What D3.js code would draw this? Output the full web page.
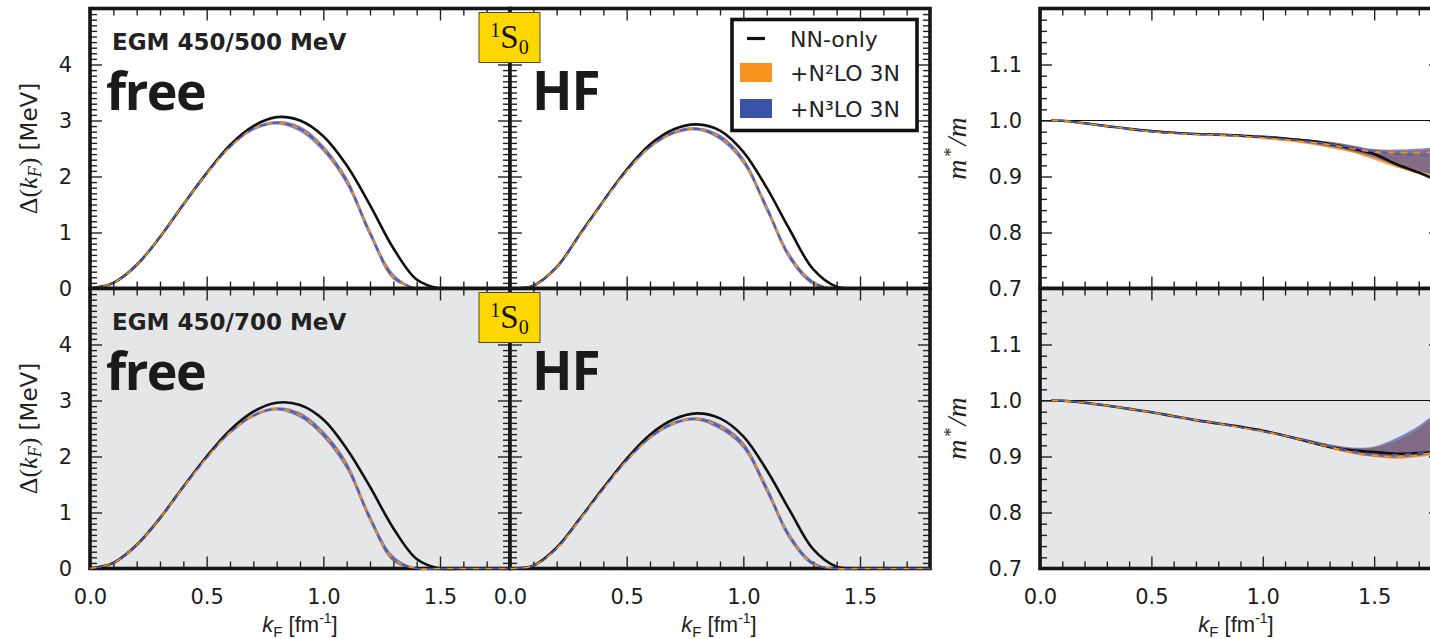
<!DOCTYPE html>
<html><head><meta charset="utf-8">
<script src="https://cdn.jsdelivr.net/npm/d3@7"></script>
<style>
body{margin:0;background:#fff;}
svg{display:block;}
</style></head><body>
<svg id="chart" width="1430" height="639"></svg>
<script>
// ---------- data ----------
const kF = [0,0.1,0.2,0.3,0.4,0.5,0.6,0.7,0.8,0.9,1.0,1.1,1.2,1.3,1.4,1.5,1.6,1.7,1.8];
const kFmass = [0.05,0.1,0.2,0.3,0.4,0.5,0.6,0.7,0.8,0.9,1.0,1.1,1.2,1.3,1.4,1.5,1.6,1.7,1.8];

// EGM 450/500, free spectrum
const freeA_nn      = [0,0.10,0.42,0.92,1.50,2.06,2.56,2.90,3.06,3.00,2.72,2.20,1.49,0.72,0.16,0,0,0,0];
const freeA_mid     = [0,0.10,0.42,0.92,1.50,2.05,2.53,2.85,2.96,2.85,2.50,1.92,0.99,0.21,0,0,0,0,0];
const freeA_n2lo_lo = [0,0.09,0.41,0.91,1.48,2.03,2.51,2.83,2.94,2.82,2.46,1.87,0.94,0.17,0,0,0,0,0];
const freeA_n2lo_hi = [0,0.11,0.43,0.93,1.52,2.07,2.55,2.87,2.98,2.88,2.54,1.97,1.04,0.25,0.01,0,0,0,0];
const freeA_n3lo_lo = [0,0.09,0.40,0.90,1.48,2.03,2.50,2.82,2.93,2.80,2.44,1.85,0.92,0.16,0,0,0,0,0];
const freeA_n3lo_hi = [0,0.11,0.44,0.94,1.52,2.07,2.56,2.88,2.99,2.90,2.56,1.99,1.06,0.27,0.01,0,0,0,0];

// EGM 450/500, HF spectrum
const hfA_nn      = [0,0.05,0.38,0.97,1.56,2.12,2.57,2.84,2.93,2.82,2.44,1.80,1.04,0.34,0.03,0,0,0,0];
const hfA_mid     = [0,0.05,0.38,0.96,1.55,2.10,2.53,2.78,2.85,2.70,2.28,1.44,0.56,0.10,0,0,0,0,0];
const hfA_n2lo_lo = [0,0.04,0.37,0.95,1.54,2.08,2.51,2.76,2.83,2.67,2.24,1.39,0.52,0.07,0,0,0,0,0];
const hfA_n2lo_hi = [0,0.06,0.39,0.97,1.56,2.12,2.55,2.80,2.87,2.73,2.32,1.49,0.60,0.13,0,0,0,0,0];
const hfA_n3lo_lo = [0,0.04,0.36,0.94,1.53,2.07,2.50,2.75,2.82,2.65,2.22,1.37,0.50,0.06,0,0,0,0,0];
const hfA_n3lo_hi = [0,0.06,0.40,0.98,1.57,2.13,2.56,2.81,2.88,2.75,2.34,1.51,0.62,0.14,0,0,0,0,0];

// EGM 450/700, free spectrum
const freeB_nn      = [0,0.10,0.42,0.90,1.46,2.00,2.47,2.80,2.96,2.92,2.66,2.14,1.46,0.72,0.17,0,0,0,0];
const freeB_mid     = [0,0.10,0.42,0.90,1.45,1.98,2.43,2.73,2.85,2.74,2.40,1.84,0.90,0.17,0,0,0,0,0];
const freeB_n2lo_lo = [0,0.09,0.41,0.89,1.44,1.96,2.41,2.71,2.83,2.71,2.36,1.79,0.85,0.13,0,0,0,0,0];
const freeB_n2lo_hi = [0,0.11,0.43,0.91,1.46,2.00,2.45,2.75,2.87,2.77,2.44,1.89,0.95,0.21,0.01,0,0,0,0];
const freeB_n3lo_lo = [0,0.09,0.40,0.88,1.43,1.95,2.40,2.70,2.82,2.69,2.34,1.77,0.83,0.12,0,0,0,0,0];
const freeB_n3lo_hi = [0,0.11,0.44,0.92,1.47,2.01,2.46,2.76,2.88,2.79,2.46,1.91,0.97,0.23,0.01,0,0,0,0];

// EGM 450/700, HF spectrum
const hfB_nn      = [0,0.05,0.37,0.89,1.44,1.96,2.39,2.66,2.77,2.68,2.36,1.76,1.03,0.34,0.03,0,0,0,0];
const hfB_mid     = [0,0.05,0.36,0.88,1.42,1.93,2.34,2.59,2.67,2.53,2.20,1.42,0.56,0.08,0,0,0,0,0];
const hfB_n2lo_lo = [0,0.04,0.35,0.87,1.41,1.91,2.32,2.57,2.65,2.50,2.16,1.37,0.52,0.06,0,0,0,0,0];
const hfB_n2lo_hi = [0,0.06,0.37,0.89,1.43,1.95,2.36,2.61,2.69,2.56,2.24,1.47,0.60,0.11,0,0,0,0,0];
const hfB_n3lo_lo = [0,0.04,0.34,0.86,1.40,1.90,2.31,2.56,2.64,2.48,2.14,1.35,0.50,0.05,0,0,0,0,0];
const hfB_n3lo_hi = [0,0.06,0.38,0.90,1.44,1.96,2.37,2.62,2.70,2.58,2.26,1.49,0.62,0.12,0,0,0,0,0];

// effective mass m*/m, EGM 450/500
const massA_nn        = [1.0,0.9995,0.995,0.990,0.985,0.981,0.978,0.976,0.975,0.973,0.971,0.968,0.964,0.958,0.950,0.940,0.922,0.907,0.890];
const massA_n2lo_lo   = [1.0,0.999,0.994,0.989,0.984,0.979,0.976,0.974,0.972,0.970,0.967,0.963,0.958,0.951,0.943,0.930,0.916,0.905,0.894];
const massA_n2lo_hi   = [1.0,1.000,0.996,0.991,0.986,0.982,0.979,0.977,0.976,0.974,0.972,0.969,0.966,0.962,0.955,0.948,0.946,0.947,0.950];
const massA_n2lo_line = [1.0,0.9995,0.995,0.990,0.985,0.980,0.977,0.975,0.974,0.972,0.969,0.966,0.962,0.957,0.950,0.944,0.943,0.943,0.944];
const massA_n3lo_lo   = [1.0,0.999,0.994,0.989,0.984,0.980,0.977,0.975,0.974,0.972,0.969,0.965,0.960,0.953,0.945,0.934,0.920,0.910,0.900];
const massA_n3lo_hi   = [1.0,1.000,0.996,0.991,0.986,0.982,0.979,0.977,0.976,0.974,0.972,0.969,0.966,0.962,0.956,0.949,0.948,0.950,0.953];
const massA_n3lo_line = [1.0,0.9995,0.995,0.990,0.985,0.981,0.978,0.976,0.975,0.973,0.971,0.967,0.963,0.958,0.952,0.945,0.940,0.938,0.937];

// effective mass m*/m, EGM 450/700
const massB_nn        = [1.0,0.9995,0.996,0.991,0.985,0.979,0.972,0.965,0.959,0.953,0.946,0.937,0.927,0.917,0.911,0.908,0.905,0.906,0.909];
const massB_n2lo_lo   = [1.0,0.999,0.995,0.990,0.984,0.978,0.971,0.964,0.958,0.951,0.943,0.935,0.925,0.914,0.905,0.899,0.896,0.899,0.905];
const massB_n2lo_hi   = [1.0,1.000,0.997,0.992,0.986,0.980,0.973,0.966,0.960,0.954,0.947,0.939,0.930,0.921,0.915,0.916,0.928,0.950,0.980];
const massB_n2lo_line = [1.0,0.9995,0.996,0.991,0.985,0.979,0.972,0.965,0.959,0.952,0.945,0.937,0.927,0.917,0.908,0.902,0.900,0.903,0.910];
const massB_n3lo_lo   = [1.0,0.999,0.995,0.990,0.984,0.978,0.971,0.964,0.958,0.951,0.944,0.936,0.926,0.915,0.906,0.900,0.898,0.901,0.907];
const massB_n3lo_hi   = [1.0,1.000,0.997,0.992,0.986,0.980,0.973,0.966,0.960,0.954,0.947,0.939,0.931,0.922,0.916,0.918,0.933,0.955,0.985];
const massB_n3lo_line = [1.0,0.9995,0.996,0.991,0.985,0.979,0.972,0.965,0.959,0.952,0.945,0.937,0.928,0.918,0.910,0.904,0.903,0.906,0.912];

// ticks & labels
const xMajorTicks = [0,0.5,1.0,1.5];
const gapMajorTicks = [0,1,2,3,4,5];
const gapTickLabels = [0,1,2,3,4];
const massMajorTicks = [0.7,0.8,0.9,1.0,1.1,1.2];
const massTickLabels = [0.7,0.8,0.9,1.0,1.1];
const rowTitles = ["EGM 450/500 MeV", "EGM 450/700 MeV"];
const legendLabels = ["NN-only", "+N\u00b2LO 3N", "+N\u00b3LO 3N"];

// ---------- styles ----------
const ORANGE = "#F7921E", BLUE = "#3A53A6";
const BAND_OR = "#F7921E", BAND_BL = "#3B4DB2";
const TXT = "#1c1c1c";

const svg = d3.select("#chart");
const rows = [{y0: 8.5, y1: 288.5, bg: "#ffffff"}, {y0: 288.5, y1: 568.5, bg: "#e5e6e8"}];
const cols = {free: [90, 510], hf: [510, 930], mass: [1040, 1441]};
const CURVE = d3.curveCatmullRom.alpha(0.5);

let clipId = 0;
function panel(cfg) {
  const row = rows[cfg.row];
  const [x0, x1] = cols[cfg.col];
  const x = d3.scaleLinear().domain([0, 1.8]).range([x0, x1]);
  const y = d3.scaleLinear().domain(cfg.yDomain).range([row.y1, row.y0]);
  const g = svg.append("g");
  g.append("rect").attr("x", x0).attr("y", row.y0).attr("width", x1 - x0).attr("height", row.y1 - row.y0).attr("fill", row.bg);
  const id = "clip" + (clipId++);
  svg.append("clipPath").attr("id", id).append("rect").attr("x", x0).attr("y", row.y0 - 2).attr("width", x1 - x0).attr("height", row.y1 - row.y0 + 4);
  const plot = g.append("g").attr("clip-path", `url(#${id})`);
  const ks = cfg.k;
  if (cfg.refLine !== undefined) {
    plot.append("line").attr("x1", x0).attr("x2", x1).attr("y1", y(cfg.refLine)).attr("y2", y(cfg.refLine)).attr("stroke", "#111").attr("stroke-width", 1.1);
  }
  const area = (lo, hi) => d3.area().x((d, i) => x(ks[i])).y0((d, i) => y(lo[i])).y1((d, i) => y(hi[i])).curve(CURVE)(lo);
  const line = arr => d3.line().x((d, i) => x(ks[i])).y(d => y(d)).curve(CURVE)(arr);
  plot.append("path").attr("d", area(cfg.n2lo[0], cfg.n2lo[1])).attr("fill", BAND_OR).attr("fill-opacity", 0.85);
  plot.append("path").attr("d", area(cfg.n3lo[0], cfg.n3lo[1])).attr("fill", BAND_BL).attr("fill-opacity", 0.62);
  plot.append("path").attr("d", line(cfg.nn)).attr("fill", "none").attr("stroke", "#111").attr("stroke-width", 2.6);

  const drawDashed = (target) => {
    target.append("path").attr("d", line(cfg.n2loLine)).attr("fill", "none").attr("stroke", ORANGE).attr("stroke-width", 1.6).attr("stroke-dasharray", "7,6");
    target.append("path").attr("d", line(cfg.n3loLine)).attr("fill", "none").attr("stroke", "#4a5fb8").attr("stroke-width", 1.6).attr("stroke-dasharray", "7,6").attr("stroke-dashoffset", 6);
  };
  if (!cfg.dashOverSpine) drawDashed(plot);

  // axes (inward ticks on all four sides)
  const xMinor = d3.range(1, 18).map(v => v / 10).filter(v => Math.abs(v * 2 - Math.round(v * 2)) > 1e-6);
  const styleAx = sel => { sel.select(".domain").remove(); sel.selectAll(".tick line").attr("stroke", "#222").attr("stroke-width", 1.4); sel.selectAll("text").attr("fill", TXT).attr("font-family", "DejaVu Sans").attr("font-size", 21); };
  const fmtX = v => d3.format(".1f")(v);
  g.append("g").attr("transform", `translate(0,${row.y1})`).call(d3.axisBottom(x).tickValues(xMajorTicks).tickSize(-12).tickPadding(21).tickFormat(cfg.xLabels ? fmtX : "")).call(styleAx);
  g.append("g").attr("transform", `translate(0,${row.y1})`).call(d3.axisBottom(x).tickValues(xMinor).tickSize(-7).tickFormat("")).call(styleAx);
  g.append("g").attr("transform", `translate(0,${row.y0})`).call(d3.axisTop(x).tickValues(xMajorTicks).tickSize(-12).tickFormat("")).call(styleAx);
  g.append("g").attr("transform", `translate(0,${row.y0})`).call(d3.axisTop(x).tickValues(xMinor).tickSize(-7).tickFormat("")).call(styleAx);

  const yLab = v => (cfg.yLabelValues && cfg.yLabelValues.some(l => Math.abs(l - v) < 1e-9)) ? cfg.yFormat(v) : "";
  g.append("g").attr("transform", `translate(${x0},0)`).call(d3.axisLeft(y).tickValues(cfg.yMajor).tickSize(-12).tickPadding(18).tickFormat(yLab)).call(styleAx);
  g.append("g").attr("transform", `translate(${x0},0)`).call(d3.axisLeft(y).tickValues(cfg.yMinor).tickSize(-7).tickFormat("")).call(styleAx);
  g.append("g").attr("transform", `translate(${x1},0)`).call(d3.axisRight(y).tickValues(cfg.yMajor).tickSize(-12).tickFormat("")).call(styleAx);
  g.append("g").attr("transform", `translate(${x1},0)`).call(d3.axisRight(y).tickValues(cfg.yMinor).tickSize(-7).tickFormat("")).call(styleAx);

  g.append("rect").attr("x", x0).attr("y", row.y0).attr("width", x1 - x0).attr("height", row.y1 - row.y0).attr("fill", "none").attr("stroke", "#151515").attr("stroke-width", 3.6);

  if (cfg.dashOverSpine) {
    const over = g.append("g").attr("clip-path", `url(#${id})`);
    drawDashed(over);
  }
  return {x, y, g};
}

const gapMinor = d3.range(0, 50).map(v => v / 10).filter(v => Math.abs(v - Math.round(v)) > 1e-6);
const massMinor = d3.range(35, 60).map(v => v / 50).filter(v => Math.abs(v * 10 - Math.round(v * 10)) > 1e-6);

const gapCfg = (row, col, nn, mid, a, b, c, d, xLabels, yLabels) => ({
  row, col, k: kF, yDomain: [0, 5], nn, n2lo: [a, b], n3lo: [c, d], n2loLine: mid, n3loLine: mid,
  yMajor: gapMajorTicks, yMinor: gapMinor, yLabelValues: yLabels ? gapTickLabels : null, yFormat: d3.format("d"),
  xLabels, dashOverSpine: row === 1
});

panel(gapCfg(0, "free", freeA_nn, freeA_mid, freeA_n2lo_lo, freeA_n2lo_hi, freeA_n3lo_lo, freeA_n3lo_hi, false, true));
panel(gapCfg(0, "hf", hfA_nn, hfA_mid, hfA_n2lo_lo, hfA_n2lo_hi, hfA_n3lo_lo, hfA_n3lo_hi, false, false));
panel(gapCfg(1, "free", freeB_nn, freeB_mid, freeB_n2lo_lo, freeB_n2lo_hi, freeB_n3lo_lo, freeB_n3lo_hi, true, true));
panel(gapCfg(1, "hf", hfB_nn, hfB_mid, hfB_n2lo_lo, hfB_n2lo_hi, hfB_n3lo_lo, hfB_n3lo_hi, true, false));

const massCfg = (row, nn, a, b, la, c, d, lb, xLabels) => ({
  row, col: "mass", k: kFmass, yDomain: [0.7, 1.2], nn, n2lo: [a, b], n3lo: [c, d], n2loLine: la, n3loLine: lb,
  yMajor: massMajorTicks, yMinor: massMinor, yLabelValues: massTickLabels, yFormat: d3.format(".1f"),
  xLabels, refLine: 1.0, dashOverSpine: false
});
panel(massCfg(0, massA_nn, massA_n2lo_lo, massA_n2lo_hi, massA_n2lo_line, massA_n3lo_lo, massA_n3lo_hi, massA_n3lo_line, false));
panel(massCfg(1, massB_nn, massB_n2lo_lo, massB_n2lo_hi, massB_n2lo_line, massB_n3lo_lo, massB_n3lo_hi, massB_n3lo_line, true));

// ---------- annotations ----------
rows.forEach((row, r) => {
  svg.append("text").attr("x", 112).attr("y", row.y0 + 41.5).attr("font-family", "DejaVu Sans").attr("font-weight", "bold").attr("font-size", 23).attr("fill", "#222").text(rowTitles[r]);
  svg.append("text").attr("x", 106).attr("y", row.y0 + 101.5).attr("font-family", "Open Sans").attr("font-weight", 700).attr("font-size", 52).attr("letter-spacing", -1.5).attr("fill", "#1a1a1a").text("free");
  svg.append("text").attr("x", 532).attr("y", row.y0 + 101.5).attr("font-family", "Open Sans").attr("font-weight", 700).attr("font-size", 53).attr("letter-spacing", -1).attr("fill", "#1a1a1a").text("HF");
  // 1S0 box
  const by = row.y0 + 4;
  svg.append("rect").attr("x", 479).attr("y", by).attr("width", 61).attr("height", 50).attr("fill", "#FFD700").attr("stroke", "#4a4a3a").attr("stroke-width", 1);
  const t = svg.append("text").attr("x", 509.5).attr("y", by + 35).attr("text-anchor", "middle").attr("font-family", "Liberation Serif").attr("fill", "#111");
  t.append("tspan").attr("font-size", 20).attr("dy", -11).text("1");
  t.append("tspan").attr("font-size", 33).attr("dy", 11).text("S");
  t.append("tspan").attr("font-size", 20).attr("dy", 6).text("0");
  // y-label
  const yl = svg.append("text").attr("transform", `translate(37,${(row.y0 + row.y1) / 2}) rotate(-90)`).attr("text-anchor", "middle").attr("fill", "#222").attr("font-size", 26);
  yl.append("tspan").attr("font-family", "Liberation Serif").text("\u0394(");
  yl.append("tspan").attr("font-family", "Liberation Serif").attr("font-style", "italic").text("k");
  yl.append("tspan").attr("font-family", "Liberation Serif").attr("font-style", "italic").attr("font-size", 18).attr("dy", 4).text("F");
  yl.append("tspan").attr("font-family", "Liberation Serif").attr("dy", -4).text(")");
  yl.append("tspan").attr("font-family", "DejaVu Sans").attr("font-size", 23).text(" [MeV]");
  // m*/m label
  const ml = svg.append("text").attr("transform", `translate(966,${(row.y0 + row.y1) / 2}) rotate(-90)`).attr("text-anchor", "middle").attr("fill", "#222").attr("font-family", "Liberation Serif").attr("font-style", "italic").attr("font-size", 28);
  ml.append("tspan").text("m");
  ml.append("tspan").attr("font-size", 18).attr("dy", -9).attr("dx", 2).text("*");
  ml.append("tspan").attr("dy", 9).attr("dx", 3).text("/");
  ml.append("tspan").text("m");
});

// x-axis labels
[300, 719, 1236].forEach(cx => {
  const t = svg.append("text").attr("x", cx).attr("y", 632).attr("text-anchor", "middle").attr("font-family", "Liberation Sans").attr("font-size", 22).attr("fill", "#222");
  t.append("tspan").attr("font-style", "italic").text("k");
  t.append("tspan").attr("font-size", 15).attr("dy", 5).text("F");
  t.append("tspan").attr("dy", -5).text(" [fm");
  t.append("tspan").attr("font-size", 14).attr("dy", -9).text("-1");
  t.append("tspan").attr("dy", 9).text("]");
});

// legend
const lg = svg.append("g");
lg.append("rect").attr("x", 732).attr("y", 19.5).attr("width", 185).attr("height", 111).attr("fill", "#fff").attr("stroke", "#111").attr("stroke-width", 3.6);
lg.append("line").attr("x1", 747).attr("x2", 765).attr("y1", 38.5).attr("y2", 38.5).attr("stroke", "#111").attr("stroke-width", 3.2);
lg.append("rect").attr("x", 740).attr("y", 63).attr("width", 32).attr("height", 19).attr("fill", ORANGE);
lg.append("rect").attr("x", 740).attr("y", 99).attr("width", 32).attr("height", 19).attr("fill", BLUE);
[46.5, 81, 117].forEach((yy, i) => {
  lg.append("text").attr("x", 790).attr("y", yy).attr("font-family", "DejaVu Sans").attr("font-size", 22).attr("fill", "#222").text(legendLabels[i]);
});
</script>
</body></html>
